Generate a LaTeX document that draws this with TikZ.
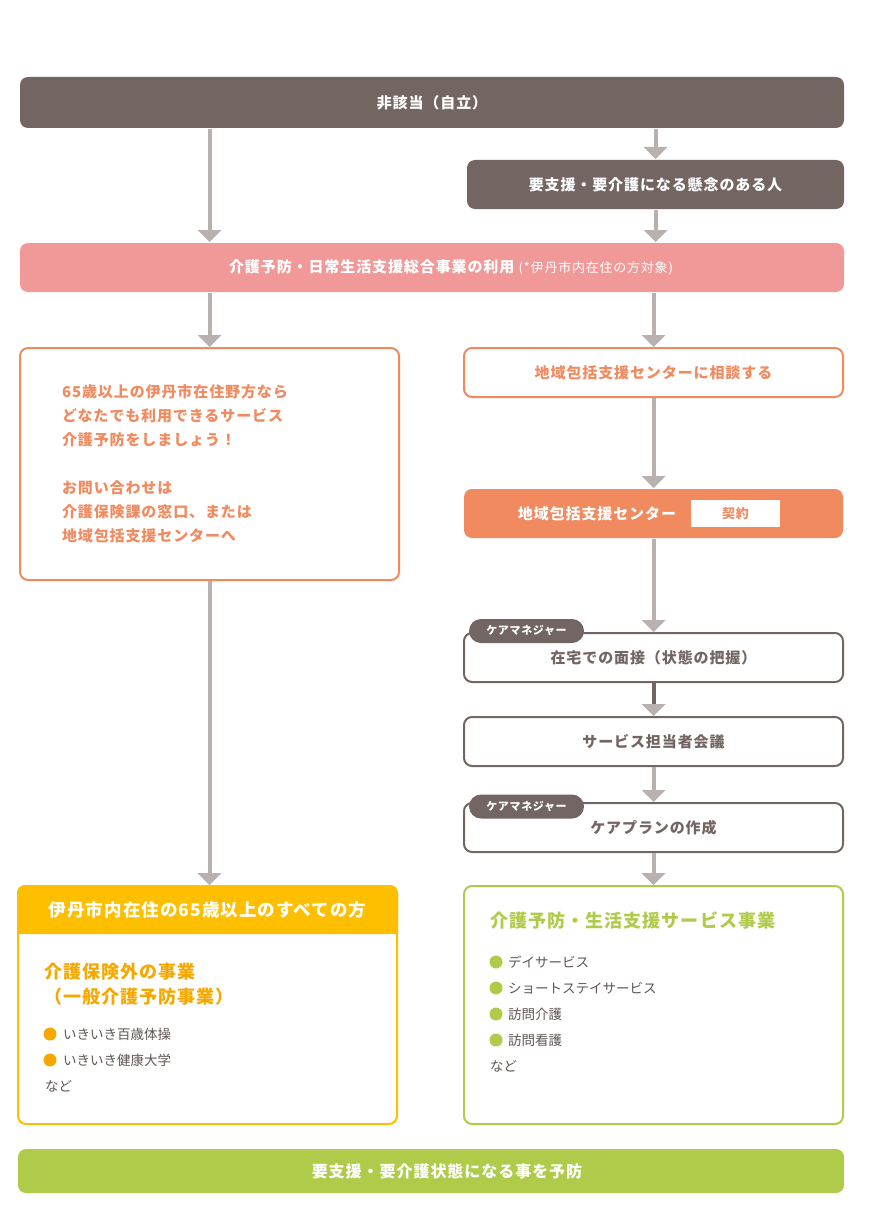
\documentclass[tikz,border=0pt]{standalone}
\usepackage{fontspec}
\setmainfont{Noto Sans CJK JP}[LetterSpace=6]
\newfontfamily\plainjp{Noto Sans CJK JP}
\usetikzlibrary{arrows.meta}

\definecolor{brownc}{HTML}{736662}
\definecolor{arrowgray}{HTML}{B9B1AF}
\definecolor{pinkc}{HTML}{F19998}
\definecolor{orangec}{HTML}{F28A5F}
\definecolor{yellowc}{HTML}{FDBF00}
\definecolor{yellowtext}{HTML}{F6A800}
\definecolor{greenc}{HTML}{AFCB49}
\definecolor{textgray}{HTML}{5F5654}

\begin{document}
\begin{tikzpicture}[x=1pt, y=-1pt,
	flow/.style={line width=4pt, draw=arrowgray, -{Triangle[width=24pt, length=12pt, line width=0pt]}},
	stepbox/.style={rounded corners=8pt, minimum width=379pt, minimum height=49pt, inner sep=0pt, line width=2pt, font=\bfseries\fontsize{15}{18}\selectfont},
	tag/.style={rounded corners=12pt, fill=brownc, text=white, minimum width=115pt, minimum height=24pt, inner sep=0pt, font=\bfseries\fontsize{11}{12}\selectfont},
	item/.style={anchor=west, inner sep=0pt, text=textgray, font=\plainjp\fontsize{13.5}{16}\selectfont},
	dot/.style={circle, inner sep=0pt, minimum size=13pt},
]
	\useasboundingbox (0,0) rectangle (871,1217);

	% Top
	\node[stepbox, fill=brownc, text=white, minimum width=824pt, minimum height=51pt] (top) at (432,102.5) {非該当（自立）};
	\node[stepbox, fill=brownc, text=white, minimum width=377pt] (concern) at (655.5,184.5) {要支援・要介護になる懸念のある人};
	\node[stepbox, fill=pinkc, minimum width=824pt] (use) at (432,267.5) {};
	\node[text=white, inner sep=0pt, font=\bfseries\fontsize{15}{18}\selectfont] (usetext) at (451,267.5) {介護予防・日常生活支援総合事業の利用 {\mdseries\fontsize{13}{14}\selectfont (*伊丹市内在住の方対象)}};

	% Left column
	\node[stepbox, draw=orangec, fill=white, text=orangec, minimum height=232pt, text width=295pt, align=left, inner xsep=42pt, font=\bfseries\fontsize{15}{24}\selectfont] (info) at (209.5,464) {65歳以上の伊丹市在住野方なら\\どなたでも利用できるサービス\\介護予防をしましょう！\\[24pt]お問い合わせは\\介護保険課の窓口、または\\地域包括支援センターへ};

	\node[stepbox, draw=yellowc, fill=white, minimum height=238pt] (general) at (207.5,1005) {};
	\fill[yellowc, rounded corners=8pt] (general.north west) rectangle ([yshift=-49pt]general.north east);
	\fill[yellowc] ([yshift=-25pt]general.north west) rectangle ([yshift=-49pt]general.north east);
	\node[text=white, font=\bfseries\fontsize{17.5}{20}\selectfont] (genhead) at ([yshift=-25pt]general.north) {伊丹市内在住の65歳以上のすべての方};
	\node[anchor=west, inner sep=0pt, align=left, text=yellowtext, font=\bfseries\fontsize{18}{25}\selectfont] (gentitle) at (44,984.5) {介護保険外の事業\\（一般介護予防事業）};
	\node[dot, fill=yellowtext] (gdot1) at (50,1034) {};
	\node[item] (gitem1) at (63,1034) {いきいき百歳体操};
	\node[dot, fill=yellowtext] (gdot2) at (50,1060) {};
	\node[item] (gitem2) at (63,1060) {いきいき健康大学};
	\node[item] (getc) at (45,1086) {など};

	% Right column
	\node[stepbox, draw=orangec, fill=white, text=orangec] (consult) at (653.5,372.5) {地域包括支援センターに相談する};
	\node[stepbox, fill=orangec] (center) at (653.5,513.5) {};
	\node[text=white, font=\bfseries\fontsize{15}{18}\selectfont] (centername) at (597,513.5) {地域包括支援センター};
	\node[fill=white, minimum width=89pt, minimum height=27pt, inner sep=0pt, text=orangec, font=\bfseries\fontsize{13}{14}\selectfont] (contract) at (735.5,513.5) {契約};

	\node[stepbox, draw=brownc, fill=white, text=brownc] (interview) at (653.5,657.5) {\raisebox{-2pt}{在宅での面接（状態の把握）}};
	\node[tag] (cm1) at (526.5,631) {ケアマネジャー};
	\node[stepbox, draw=brownc, fill=white, text=brownc] (meeting) at (653.5,741.5) {サービス担当者会議};
	\node[stepbox, draw=brownc, fill=white, text=brownc] (plan) at (653.5,827.5) {\raisebox{-2pt}{ケアプランの作成}};
	\node[tag] (cm2) at (526.5,806.5) {ケアマネジャー};

	\node[stepbox, draw=greenc, fill=white, minimum height=238pt] (service) at (653.5,1005) {};
	\node[anchor=west, inner sep=0pt, text=greenc, font=\bfseries\fontsize{18}{20}\selectfont] (servtitle) at (490,921) {介護予防・生活支援サービス事業};
	\foreach \name [count=\i] in {デイサービス, ショートステイサービス, 訪問介護, 訪問看護} {
		\node[dot, fill=greenc] (sdot\i) at (496,936+26*\i) {};
		\node[item] (sitem\i) at (508,936+26*\i) {\name};
	}
	\node[item] (setc) at (490,1066) {など};

	% Bottom
	\node[stepbox, fill=greenc, minimum width=826pt, minimum height=44pt] (prevent) at (431,1171) {};
	\node[text=white, inner sep=0pt, font=\bfseries\fontsize{16}{18}\selectfont] (preventtext) at (447,1171) {要支援・要介護状態になる事を予防};

	% Arrows
	\draw[flow] (top.south -| info.north) -- (use.north -| info.north);
	\draw[flow] (top.south -| concern.north) -- (concern.north);
	\draw[flow] (concern.south) -- (concern.south |- use.north);
	\draw[flow] (use.south -| info.north) -- (info.north);
	\draw[flow] (use.south -| consult.north) -- (consult.north);
	\draw[flow] (info.south) -- (info.south |- general.north);
	\draw[flow] (consult.south) -- (center.north);
	\draw[flow] (center.south) -- (interview.north);
	\draw[flow, draw=brownc, -{Triangle[width=24pt, length=12pt, line width=0pt, color=arrowgray]}] (interview.south) -- (meeting.north);
	\draw[flow] (meeting.south) -- (plan.north);
	\draw[flow] (plan.south) -- (service.north);
\end{tikzpicture}
\end{document}
